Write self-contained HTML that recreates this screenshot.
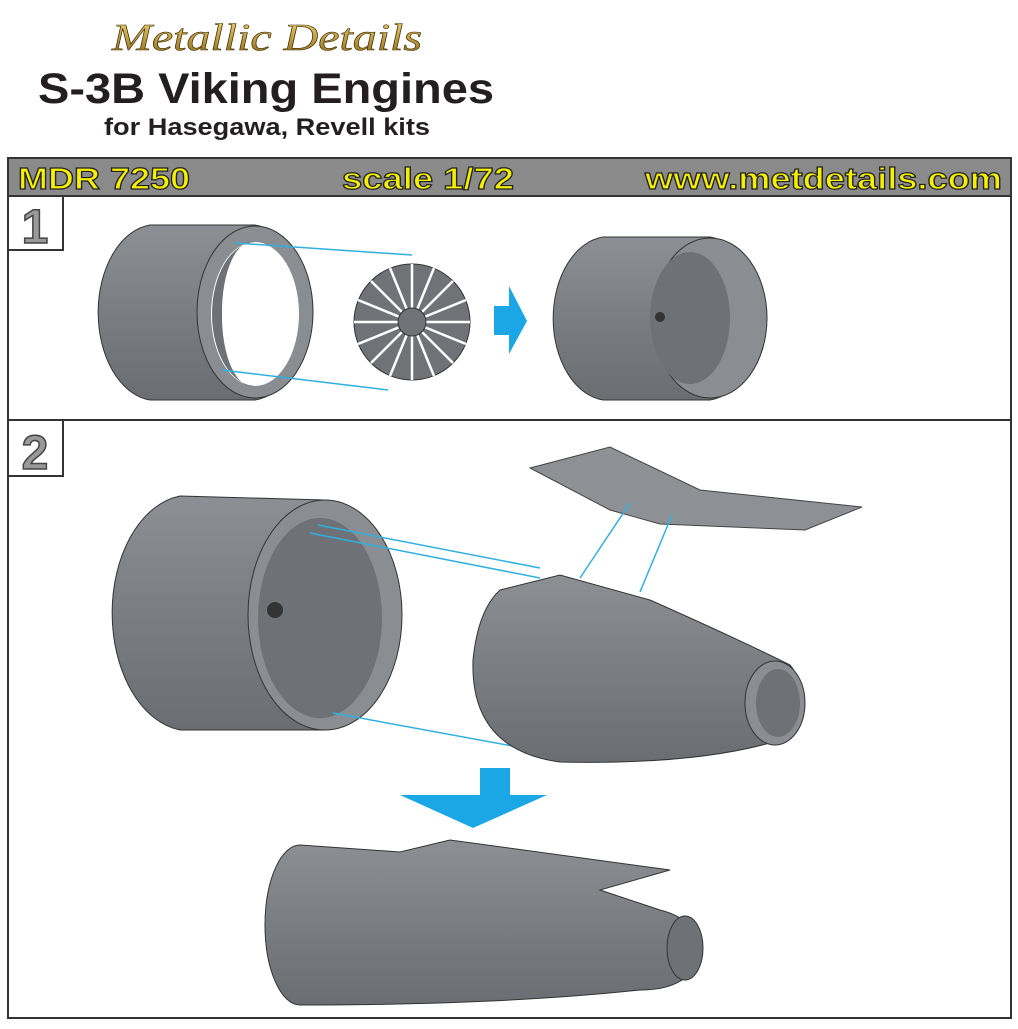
<!DOCTYPE html>
<html><head><meta charset="utf-8"><style>
body{margin:0;background:#fff;width:1018px;height:1024px;overflow:hidden;font-family:"Liberation Sans",sans-serif}
</style></head><body>
<svg width="1018" height="1024" viewBox="0 0 1018 1024" xmlns="http://www.w3.org/2000/svg">
<defs>
<linearGradient id="g" x1="0" y1="0" x2="0" y2="1"><stop offset="0" stop-color="#8c9094"/><stop offset="0.5" stop-color="#7a7e82"/><stop offset="1" stop-color="#6a6e72"/></linearGradient>
<linearGradient id="gold" x1="0" y1="0" x2="0" y2="1"><stop offset="0" stop-color="#f3d77a"/><stop offset="1" stop-color="#8a6512"/></linearGradient>
</defs>
<text x="112" y="50" font-family="Liberation Serif,serif" font-style="italic" font-size="38" fill="url(#gold)" stroke="#3a2a00" stroke-width="0.6" textLength="310" lengthAdjust="spacingAndGlyphs">Metallic Details</text>
<text x="38" y="103" font-size="43" font-weight="bold" fill="#231f20" textLength="456" lengthAdjust="spacingAndGlyphs">S-3B Viking Engines</text>
<text x="104" y="135" font-size="24" font-weight="bold" fill="#231f20" textLength="326" lengthAdjust="spacingAndGlyphs">for Hasegawa, Revell kits</text>
<rect x="8" y="158" width="1003" height="38" fill="#8a8a8a" stroke="#333" stroke-width="2"/>
<g font-size="31" fill="#f5f000" stroke="#222" stroke-width="1.2" font-weight="bold">
<text x="18" y="189" textLength="172" lengthAdjust="spacingAndGlyphs">MDR 7250</text>
<text x="342" y="189" textLength="172" lengthAdjust="spacingAndGlyphs">scale 1/72</text>
<text x="645" y="189" textLength="357" lengthAdjust="spacingAndGlyphs">www.metdetails.com</text>
</g>
<rect x="8" y="196" width="1003" height="224" fill="none" stroke="#333" stroke-width="2"/>
<rect x="8" y="420" width="1003" height="598" fill="none" stroke="#333" stroke-width="2"/>
<rect x="8" y="196" width="55" height="54" fill="#fff" stroke="#333" stroke-width="2"/>
<rect x="8" y="420" width="55" height="56" fill="#fff" stroke="#333" stroke-width="2"/>
<text x="35" y="243" font-size="48" font-weight="bold" fill="#999" stroke="#444" stroke-width="1.5" text-anchor="middle">1</text>
<text x="35" y="469" font-size="48" font-weight="bold" fill="#999" stroke="#444" stroke-width="1.5" text-anchor="middle">2</text>

<!-- Step 1 engine -->
<path d="M150 225 L255 225 A60 88 0 0 1 255 400 L150 400 A58 88 0 0 1 150 225Z" fill="url(#g)" stroke="#333"/>
<ellipse cx="255" cy="312" rx="58" ry="86" fill="#8a8e92" stroke="#333"/>
<ellipse cx="255" cy="314" rx="44" ry="72" fill="#fff"/>
<path d="M212 314 A44 72 0 0 1 255 242 A30 70 0 0 0 222 314 A30 70 0 0 0 255 386 A44 72 0 0 1 212 314Z" fill="#6e7276"/>
<line x1="235" y1="243" x2="412" y2="255" stroke="#2fb0e0" stroke-width="1.5"/>
<line x1="222" y1="370" x2="388" y2="390" stroke="#2fb0e0" stroke-width="1.5"/>
<circle cx="412" cy="322" r="58" fill="#6f7377" stroke="#333"/>
<g stroke="#fff" stroke-width="2.5">
<path d="M412 322 L412 264 M412 322 L470 322 M412 322 L412 380 M412 322 L354 322 M412 322 L453 281 M412 322 L453 363 M412 322 L371 363 M412 322 L371 281 M412 322 L434 268 M412 322 L466 344 M412 322 L390 376 M412 322 L358 300 M412 322 L466 300 M412 322 L434 376 M412 322 L358 344 M412 322 L390 268"/>
</g>
<circle cx="412" cy="322" r="14" fill="#6f7377" stroke="#333"/>
<polygon points="494,306 509,306 509,286 527,321 509,354 509,335 494,335" fill="#1ba7e6"/>
<path d="M603 237 L710 237 A58 82 0 0 1 710 400 L603 400 A56 82 0 0 1 603 237Z" fill="url(#g)" stroke="#333"/>
<ellipse cx="710" cy="318" rx="57" ry="80" fill="#8a8e92" stroke="#333"/>
<ellipse cx="690" cy="318" rx="40" ry="66" fill="#6e7276"/>
<circle cx="660" cy="317" r="5" fill="#333"/>

<!-- Step 2 -->
<path d="M180 496 L325 500 A78 118 0 0 1 325 730 L180 730 A78 118 0 0 1 180 496Z" fill="url(#g)" stroke="#333"/>
<ellipse cx="325" cy="615" rx="77" ry="115" fill="#8a8e92" stroke="#333"/>
<ellipse cx="320" cy="618" rx="62" ry="100" fill="#6e7276"/>
<circle cx="275" cy="610" r="8" fill="#333"/>
<line x1="318" y1="525" x2="540" y2="568" stroke="#2fb0e0" stroke-width="1.5"/>
<line x1="310" y1="533" x2="540" y2="578" stroke="#2fb0e0" stroke-width="1.5"/>
<line x1="333" y1="713" x2="545" y2="752" stroke="#2fb0e0" stroke-width="1.5"/>
<polygon points="530,468 610,447 700,490 862,507 805,530 660,524 610,510" fill="#8d9195" stroke="#444"/>
<line x1="630" y1="503" x2="580" y2="578" stroke="#2fb0e0" stroke-width="1.5"/>
<line x1="672" y1="515" x2="640" y2="592" stroke="#2fb0e0" stroke-width="1.5"/>
<path d="M500 590 L560 575 L650 600 Q740 640 790 665 A20 40 0 0 1 780 740 Q700 765 560 762 Q470 750 473 660 Q478 610 500 590Z" fill="url(#g)" stroke="#333"/>
<ellipse cx="775" cy="703" rx="30" ry="42" fill="#8a8e92" stroke="#333"/>
<ellipse cx="778" cy="703" rx="22" ry="34" fill="#6e7276"/>
<polygon points="480,768 510,768 510,795 547,795 473,828 400,795 480,795" fill="#1ba7e6"/>
<path d="M300 845 L400 852 L450 840 L670 870 L600 890 L660 910 Q700 920 700 955 Q690 990 640 990 Q500 1005 300 1005 A35 80 0 0 1 300 845Z" fill="url(#g)" stroke="#333"/>
<ellipse cx="685" cy="948" rx="18" ry="32" fill="#6e7276" stroke="#333"/>
</svg>
</body></html>
